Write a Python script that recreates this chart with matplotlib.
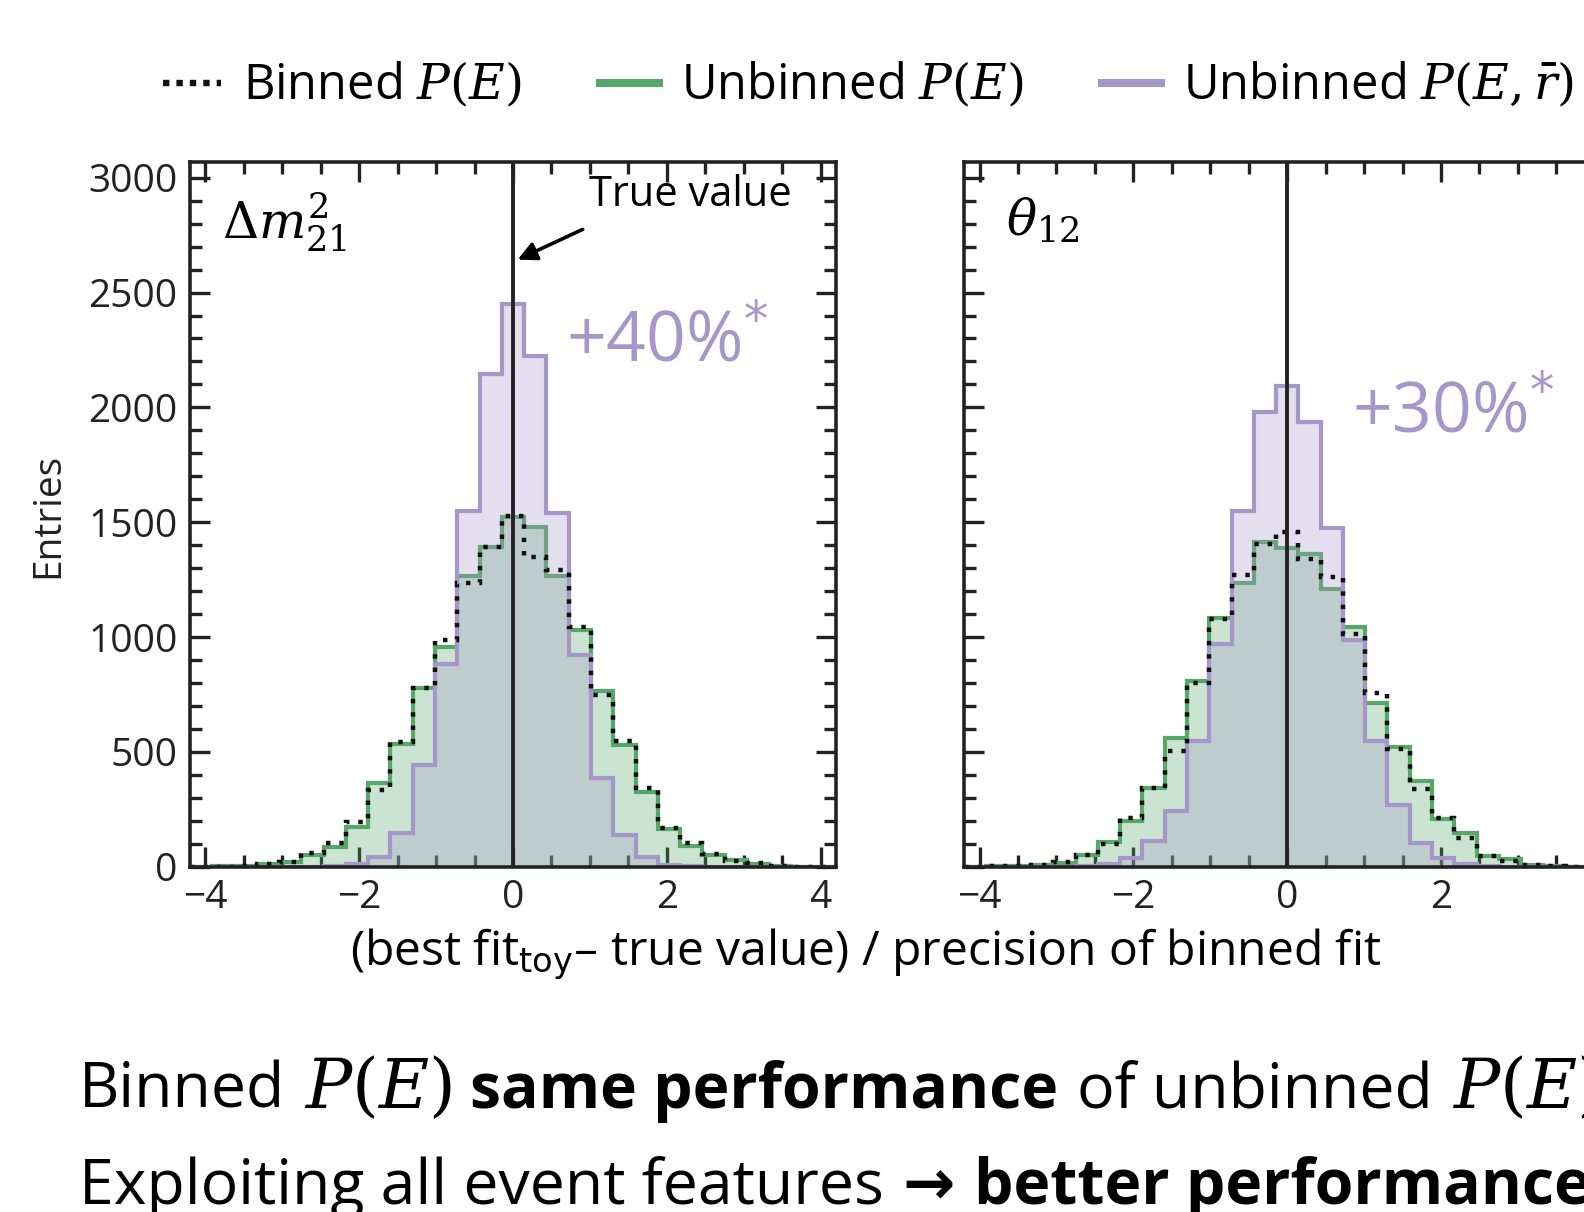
import numpy as np
import matplotlib
matplotlib.use("Agg")
import matplotlib.pyplot as plt
from matplotlib.lines import Line2D
from matplotlib.ticker import MultipleLocator

plt.rcParams["font.family"] = ["Open Sans", "DejaVu Sans"]
plt.rcParams["mathtext.fontset"] = "dejavuserif"

# ------------------------------------------------------------
# data: toy-fit pulls, 29 bins over [-4.2, 4.2]
# ------------------------------------------------------------
BIN_LO, BIN_HI, N_BINS = -4.2, 4.2, 29

DM21_BINNED = [0, 1, 4, 14, 22, 61, 105, 194, 334, 545, 777, 987, 1234, 1394, 1525,
               1350, 1292, 1045, 748, 548, 342, 170, 102, 56, 25, 15, 5, 1, 0]
DM21_UNBINNED_E = [0, 2, 4, 12, 22, 51, 88, 175, 363, 533, 777, 958, 1266, 1394, 1521,
                   1481, 1266, 1031, 767, 530, 327, 163, 91, 51, 30, 12, 4, 1, 0]
DM21_UNBINNED_ER = [0, 0, 0, 0, 0, 0, 5, 12, 44, 146, 443, 881, 1549, 2144, 2450,
                    2222, 1539, 922, 385, 138, 44, 10, 3, 0, 0, 0, 0, 0, 0]

TH12_BINNED = [1, 2, 4, 10, 20, 52, 98, 211, 344, 504, 799, 1080, 1270, 1404, 1459,
               1339, 1260, 1013, 755, 512, 339, 211, 124, 48, 25, 7, 3, 1, 0]
TH12_UNBINNED_E = [1, 2, 4, 9, 18, 51, 109, 199, 344, 562, 810, 1084, 1237, 1415, 1389,
                   1362, 1208, 1042, 712, 523, 374, 207, 146, 48, 34, 6, 3, 1, 0]
TH12_UNBINNED_ER = [0, 0, 0, 0, 0, 2, 11, 40, 112, 244, 548, 970, 1550, 1981, 2093,
                    1938, 1474, 987, 548, 269, 102, 40, 11, 2, 0, 0, 0, 0, 0]

PANEL_NAMES = [r"$\Delta m^{2}_{21}$", r"$\theta_{12}$"]
GAINS = ["+40%", "+30%"]

LEGEND_LABELS = [r"Binned $P(E)$", r"Unbinned $P(E)$", r"Unbinned $P(E,\bar{r})$"]

# ------------------------------------------------------------
# style
# ------------------------------------------------------------
GREEN = "#55a868"
PURPLE = "#a597c9"
DARK = "#222222"

W, H, DPI = 1584, 1212, 200


def px(x0, y0, x1, y1):
    # pixel box (top-left origin) -> figure fraction rect
    return [x0 / W, 1 - y1 / H, (x1 - x0) / W, (y1 - y0) / H]


def draw_panel(ax, binned, unb_e, unb_er, name, name_x, gain, gain_xy):
    edges = np.linspace(BIN_LO, BIN_HI, N_BINS + 1)

    ax.stairs(unb_e, edges, fill=True, color=GREEN, alpha=0.3, lw=0, zorder=2)
    ax.stairs(unb_e, edges, color=GREEN, lw=1.5, zorder=2.1)
    ax.stairs(unb_er, edges, fill=True, color=PURPLE, alpha=0.3, lw=0, zorder=2.2)
    ax.stairs(unb_er, edges, color=PURPLE, lw=1.5, zorder=2.3)
    ax.stairs(binned, edges, color="#111111", lw=1.6, linestyle=(0, (1, 2.0)), zorder=2.4)

    ax.axvline(0, color=DARK, lw=1.4, zorder=3)

    ax.set_xlim(BIN_LO, BIN_HI)
    ax.set_ylim(0, 3070)
    ax.set_xticks([-4, -2, 0, 2, 4])
    ax.set_yticks(np.arange(0, 3001, 500))
    ax.xaxis.set_minor_locator(MultipleLocator(0.5))
    ax.yaxis.set_minor_locator(MultipleLocator(100))
    ax.tick_params(which="both", direction="in", top=True, right=True,
                   color=DARK, width=1.2, labelsize=14, labelcolor=DARK, pad=4.5)
    ax.tick_params(which="major", length=7.2)
    ax.tick_params(which="minor", length=4.3)
    for sp in ax.spines.values():
        sp.set_linewidth(1.3)
        sp.set_color(DARK)
        sp.set_zorder(4)

    ax.text(name_x, 0.914, name, transform=ax.transAxes,
            fontsize=18, ha="left", va="center", color="black")
    ax.text(gain_xy[0], gain_xy[1], gain + r"$^{\mathsf{*}}$", fontsize=25, color=PURPLE,
            ha="left", va="center")


def put_row(fig, x, y, pieces, size):
    r = fig.canvas.get_renderer()
    gap = 0.3 * size * DPI / 72 / W
    for s, weight in pieces:
        sz = size * 1.1 if s.startswith("$") else size
        t = fig.text(x, y, s, fontsize=sz, fontweight=weight, ha="left",
                     va="baseline", color="black")
        bb = t.get_window_extent(renderer=r)
        x = bb.x1 / W + gap


def main():
    fig = plt.figure(figsize=(W / DPI, H / DPI), dpi=DPI)

    ax1 = fig.add_axes(px(190, 161.6, 836, 866.8))
    ax2 = fig.add_axes(px(964.2, 161.6, 1610.2, 866.8))

    draw_panel(ax1, DM21_BINNED, DM21_UNBINNED_E, DM21_UNBINNED_ER,
               PANEL_NAMES[0], 0.05, GAINS[0], (0.69, 2280))
    draw_panel(ax2, TH12_BINNED, TH12_UNBINNED_E, TH12_UNBINNED_ER,
               PANEL_NAMES[1], 0.064, GAINS[1], (0.84, 1971))
    ax2.tick_params(labelleft=False)

    # true value annotation
    ax1.text(0.99, 2925, "True value", fontsize=15, ha="left", va="center", color="black")
    ax1.annotate("", xy=(0.06, 2643), xytext=(0.906, 2775),
                 arrowprops=dict(arrowstyle="-|>", color="black", lw=1.3,
                                 mutation_scale=14, shrinkA=0, shrinkB=0))

    fig.text(48.5 / W, 1 - 515 / H, "Entries", rotation=90, fontsize=14,
             ha="center", va="center", color=DARK)
    fig.text(866 / W, 1 - 965 / H,
             r"(best fit$_{\mathsf{toy}}$– true value) / precision of binned fit",
             fontsize=17.3, ha="center", va="baseline", color="black")

    handles = [
        Line2D([], [], color="#111111", lw=2.3, linestyle=(0, (1, 1.1))),
        Line2D([], [], color=GREEN, lw=2.9),
        Line2D([], [], color=PURPLE, lw=2.9),
    ]
    fig.legend(handles, LEGEND_LABELS, loc="center left",
               bbox_to_anchor=(143 / W, 1 - 87 / H), ncol=3, frameon=False,
               fontsize=17.6, handlelength=1.2, handletextpad=0.45,
               columnspacing=1.6, borderaxespad=0)

    put_row(fig, 79 / W, 1 - 1108 / H,
            [("Binned", "normal"), (r"$P(E)$", "normal"),
             ("same performance", "bold"), ("of unbinned", "normal"),
             (r"$P(E)$", "normal")], 22.5)
    put_row(fig, 79 / W, 1 - 1204 / H,
            [("Exploiting all event features", "normal"), ("→", "bold"),
             ("better performance", "bold")], 22.5)

    fig.savefig("out.png", dpi=DPI)


if __name__ == "__main__":
    main()
